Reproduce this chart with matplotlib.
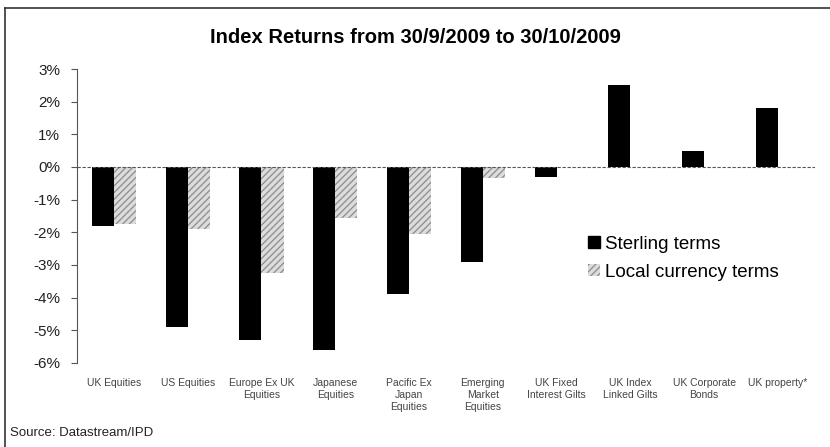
import matplotlib
matplotlib.use("Agg")
import matplotlib.pyplot as plt
import numpy as np
from matplotlib.lines import Line2D
from matplotlib.patches import Patch

plt.rcParams['font.family'] = ['Liberation Sans', 'DejaVu Sans']

categories = ["UK Equities", "US Equities", "Europe Ex UK\nEquities", "Japanese\nEquities",
              "Pacific Ex\nJapan\nEquities", "Emerging\nMarket\nEquities", "UK Fixed\nInterest Gilts",
              "UK Index\nLinked Gilts", "UK Corporate\nBonds", "UK property*"]
sterling = [-1.8, -4.9, -5.3, -5.6, -3.9, -2.9, -0.3, 2.5, 0.5, 1.8]
local = [-1.75, -1.9, -3.25, -1.55, -2.05, -0.35, np.nan, np.nan, np.nan, np.nan]
yticks = [3, 2, 1, 0, -1, -2, -3, -4, -5, -6]
ytick_labels = ["3%", "2%", "1%", "0%", "-1%", "-2%", "-3%", "-4%", "-5%", "-6%"]

plt.rcParams['hatch.linewidth'] = 0.9
fig = plt.figure(figsize=(8.3, 4.47), dpi=100)
ax = fig.add_axes([0.0928, 0.188, 0.889, 0.6576])

x = np.arange(len(categories))
w = 0.3
local_face = '#dcdcdc'
local_hatch = '#8c8c8c'
ax.bar(x - w / 2, sterling, width=w, color='black', linewidth=0)
ax.bar(x + w / 2, local, width=w, color=local_face, edgecolor=local_hatch, hatch='/////', linewidth=0)

ax.set_xlim(-0.5, len(categories) - 0.5)
ax.set_ylim(-6, 3)
ax.set_yticks(yticks)
ax.set_yticklabels(ytick_labels, fontsize=11, color='#222222')
ax.set_xticks(x)
ax.set_xticklabels(categories, fontsize=7.5, color='#444444', linespacing=1.25)
ax.tick_params(axis='x', length=0, pad=11)
ax.tick_params(axis='y', length=4, width=0.8, color='#555555', direction='out', pad=8)

for s in ['top', 'right', 'bottom']:
    ax.spines[s].set_visible(False)
ax.spines['left'].set_color('#555555')
ax.spines['left'].set_linewidth(0.8)
ax.axhline(0, color='#555555', linewidth=0.8, linestyle=(0, (3, 1.5)))

handles = [Patch(facecolor='black', edgecolor='black'),
           Patch(facecolor=local_face, edgecolor=local_hatch, hatch='/////', linewidth=0)]
ax.legend(handles, ["Sterling terms", "Local currency terms"], loc='upper left',
          bbox_to_anchor=(0.67, 0.49), frameon=False, fontsize=13.5,
          handlelength=0.6, handleheight=0.6, handletextpad=0.3, labelspacing=0.6)

fig.text(0.5, 0.915, "Index Returns from 30/9/2009 to 30/10/2009", ha='center', va='center',
         fontsize=14.5, fontweight='bold')
fig.text(0.012, 0.031, "Source: Datastream/IPD", ha='left', va='center', fontsize=9.5, color='#222222')

fig.add_artist(Line2D([0.006, 1.0], [0.982, 0.982], transform=fig.transFigure, color='#333333', linewidth=1.2))
fig.add_artist(Line2D([0.006, 0.006], [0.0, 0.982], transform=fig.transFigure, color='#333333', linewidth=1.2))

fig.savefig("out.png", dpi=100)
